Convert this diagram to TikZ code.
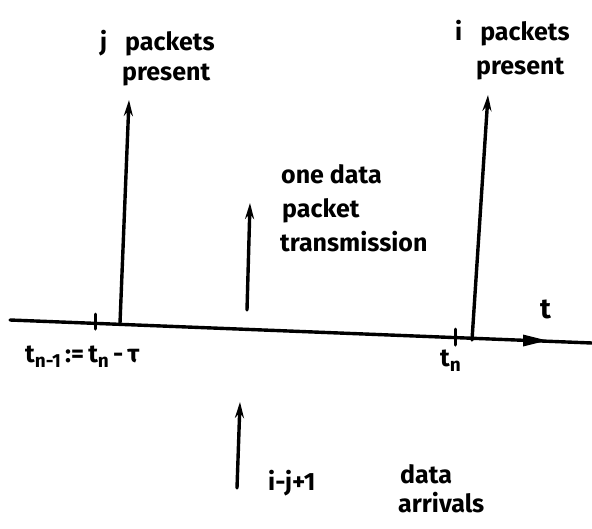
\documentclass[tikz,border=0pt]{standalone}
\usepackage{fontspec}
\setmainfont{Fira Sans}
\usetikzlibrary{arrows.meta}
\newcommand{\lowsub}[1]{\raisebox{-5pt}{\fontsize{19}{20}\selectfont #1}}
\begin{document}
\begin{tikzpicture}[x=1pt,y=-1pt,
  pen/.style={line width=3.4pt,line cap=round},
  impulse/.style={pen,-{Stealth[length=16pt,width=9pt]}},
  tickmark/.style={line width=3pt,line cap=round},
  hand/.style={font=\fontsize{25}{28}\selectfont\bfseries,align=left,inner sep=0pt,anchor=base west}]
\useasboundingbox (0,0) rectangle (592,528);
% time axis
\coordinate (a0) at (10,320);
\coordinate (a1) at (592,343);
\draw[pen] (a0) -- (a1);
\coordinate (arr) at (535,340.5);
\fill (arr) ++(-12,-6) -- ++(24,6) -- ++(-24,6) -- cycle;
% tick marks on the axis
\coordinate (tk1a) at (95,314);  \coordinate (tk1b) at (95,329);
\coordinate (tk2a) at (455,329); \coordinate (tk2b) at (455,345);
\draw[tickmark] (tk1a) -- (tk1b);
\draw[tickmark] (tk2a) -- (tk2b);
% impulses
\coordinate (j0) at (120,323); \coordinate (j1) at (129,100);
\coordinate (s0) at (247,310); \coordinate (s1) at (250,203);
\coordinate (i0) at (472,340); \coordinate (i1) at (488,95);
\coordinate (r0) at (237,488); \coordinate (r1) at (240,402);
\draw[impulse] (j0) -- (j1);
\draw[impulse] (s0) -- (s1);
\draw[impulse] (i0) -- (i1);
\draw[impulse] (r0) -- (r1);
% labels
\node[hand] (lj) at (100,50) {j\hspace{18pt}packets};
\node[hand] (ljp) at (122,80) {present};
\node[hand] (li) at (455,40) {i\hspace{18pt}packets};
\node[hand] (lip) at (476,74) {present};
\node[hand] (ls1) at (281,183) {one data};
\node[hand] (ls2) at (282,217) {packet};
\node[hand] (ls3) at (280,251) {transmission};
\node[hand] (lt) at (540,318) {\fontsize{28}{30}\selectfont t};
\node[hand] (lt1) at (25,362) {t\lowsub{n-1}\,:=\,t\lowsub{n}\,-\,τ};
\node[hand] (ltn) at (440,366) {t\lowsub{n}};
\node[hand] (lr) at (268,490) {i-j+1};
\node[hand] (ld) at (400,483) {data};
\node[hand] (la) at (398,512) {arrivals};
\end{tikzpicture}
\end{document}
